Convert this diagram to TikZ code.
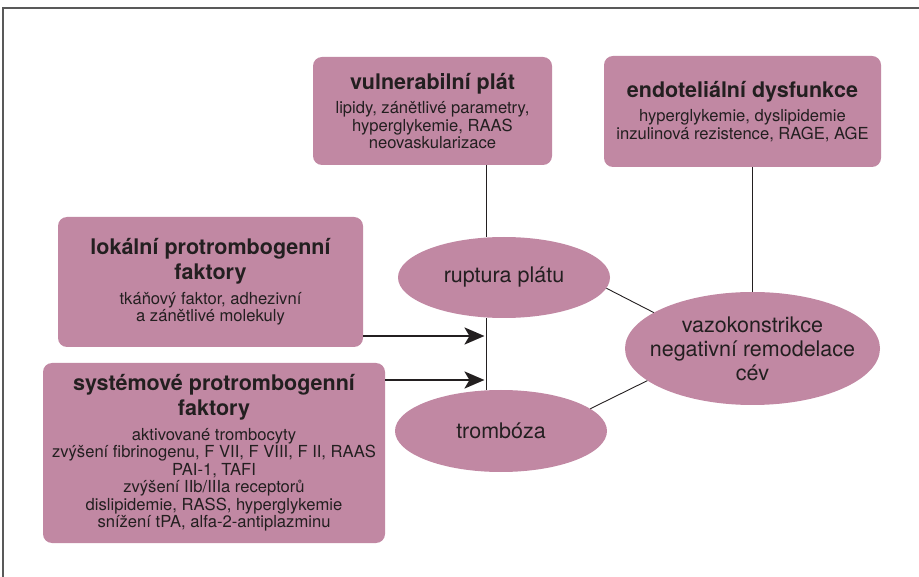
\documentclass[tikz,border=0pt]{standalone}
\usepackage{fontspec}
\setmainfont{TeX Gyre Heros}
\usepackage{tikz}
\usepackage{xcolor}
\usetikzlibrary{arrows.meta,shapes.geometric}
\definecolor{mauve}{RGB}{193,136,163}
\definecolor{ink}{RGB}{35,31,32}
\newcommand\fillColor{mauve}
\newcommand\headFont{\fontsize{21.5}{25}\selectfont\bfseries}
\newcommand\textFont{\fontsize{16.6}{17.5}\selectfont\lineskiplimit=-50pt}
\newcommand\ovalFont{\fontsize{21.5}{24}\selectfont\lineskiplimit=-50pt}

\begin{document}
\begin{tikzpicture}[x=1pt, y=-1pt,
    box/.style={fill=\fillColor, rounded corners=9pt, align=center, font=\textFont, text=ink, inner sep=0pt},
    oval/.style={ellipse, fill=\fillColor, align=center, font=\ovalFont, text=ink, inner sep=0pt},
    link/.style={draw=ink, line width=0.9pt},
    push/.style={draw=ink, line width=2.4pt, -{Stealth[length=20pt,width=17pt,inset=5pt]}}]
    \useasboundingbox (0,0) rectangle (919,577);
    \draw[black!65, line width=1.3pt] (3,577) -- (3,8) -- (919,8);

    % top boxes
    \node[box, minimum width=239pt, minimum height=108pt] (plaque) at (432.5,111)
        {{\headFont vulnerabilní plát}\\[7pt] lipidy, zánětlivé parametry,\\ hyperglykemie, RAAS\\ neovaskularizace};
    \node[box, minimum width=277pt, minimum height=111pt] (endo) at (742.5,111.5)
        {{\headFont endoteliální dysfunkce}\\[7pt] hyperglykemie, dyslipidemie\\ inzulinová rezistence, RAGE, AGE};

    % left boxes
    \node[box, minimum width=305pt, minimum height=130pt] (local) at (210.5,282)
        {{\headFont lokální protrombogenní}\\[7.5pt] {\headFont faktory}\\[7pt] tkáňový faktor, adhezivní\\ a zánětlivé molekuly};
    \node[box, minimum width=342pt, minimum height=180pt] (system) at (214,453)
        {{\headFont systémové protrombogenní}\\[7.5pt] {\headFont faktory}\\[7pt] aktivované trombocyty\\ zvýšení fibrinogenu, F VII, F VIII, F II, RAAS\\ PAI-1, TAFI\\ zvýšení IIb/IIIa receptorů\\ dislipidemie, RASS, hyperglykemie\\ snížení tPA, alfa-2-antiplazminu};

    % ellipses
    \node[oval, minimum width=212pt, minimum height=81pt] (rupture) at (504,277.5) {ruptura plátu};
    \node[oval, minimum width=212pt, minimum height=82pt] (thrombus) at (501,431) {trombóza};
    \node[oval, inner xsep=-20pt, minimum width=255pt, minimum height=113pt] (vaso) at (752.5,348.5)
        {vazokonstrikce\\ negativní remodelace\\ cév};

    \coordinate (spine) at (486,0);
    \coordinate (in1) at (484.5,336);
    \coordinate (in2) at (484.5,380);
    \draw[link] (plaque.south -| spine) -- (rupture.north -| spine);
    \draw[link] (rupture.south -| spine) -- (thrombus.north -| spine);
    \draw[link] (endo.south -| vaso) -- (vaso.north);
    \draw[link] (rupture.-6) -- (vaso.160);
    \draw[link] (thrombus.14) -- (vaso.197);
    \draw[push] (local.east |- in1) -- (in1);
    \draw[push] (system.east |- in2) -- (in2);
\end{tikzpicture}
\end{document}
